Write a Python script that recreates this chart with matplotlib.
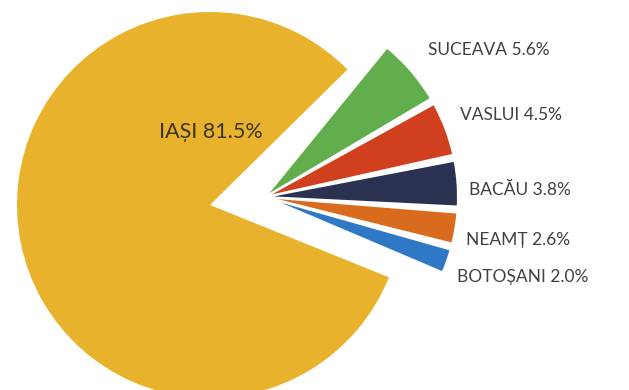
import numpy as np
import matplotlib.pyplot as plt

# Date: ponderea judetelor
judete = ['BOTOȘANI', 'NEAMȚ', 'BACĂU', 'VASLUI', 'SUCEAVA', 'IAȘI']
procente = [2.0, 2.6, 3.8, 4.5, 5.6, 81.5]
culori = ['#2F78C6', '#D86B1E', '#2B3251', '#D1401E', '#62AE4C', '#E8B22C']

# pozitii etichete (pixeli: stanga, centru vertical)
etichete_px = [(457, 277), (466, 240), (469, 190), (460, 115), (428, 50)]

W, H = 629, 390
R = 193.0            # raza in pixeli
cx, cy = 210, 205    # centrul cercului (pixeli de sus)

fig = plt.figure(figsize=(W / 100, H / 100), dpi=100)
ax = fig.add_axes([0, 0, 1, 1])

# Iasi
felii1, _ = ax.pie(procente, colors=culori, startangle=-22,
                   counterclock=True, radius=1, center=(0, 0),
                   wedgeprops=dict(linewidth=0))
for w in felii1[:-1]:
    w.set_visible(False)

# felii mici, deplasate spre dreapta, cu spatii unghiulare intre ele
felii2, _ = ax.pie(procente, colors=culori, startangle=-23,
                   counterclock=True, radius=1, center=(55 / R, 8 / R),
                   wedgeprops=dict(linewidth=1.5, edgecolor='white'))
felii2[-1].set_visible(False)
gap = 1.8
for i, w in enumerate(felii2[:-1]):
    w.set_theta1(w.theta1 + i * gap)
    w.set_theta2(w.theta2 + i * gap)

font = ['Lato', 'DejaVu Sans']
for nume, p, (px, py) in zip(judete[:-1], procente[:-1], etichete_px):
    ax.text((px - cx) / R, (cy - py) / R, f'{nume} {p:.1f}%',
            ha='left', va='center', fontsize=12.5, color='#404040', family=font)

ax.text((211 - cx) / R, (cy - 132) / R, f'{judete[-1]} {procente[-1]:.1f}%',
        ha='center', va='center', fontsize=15.5, color='#3B3519', family=font)

ax.set_xlim(-cx / R, (W - cx) / R)
ax.set_ylim(-(H - cy) / R, cy / R)
ax.set_aspect('equal')
ax.axis('off')

fig.savefig('out.png', dpi=100)
